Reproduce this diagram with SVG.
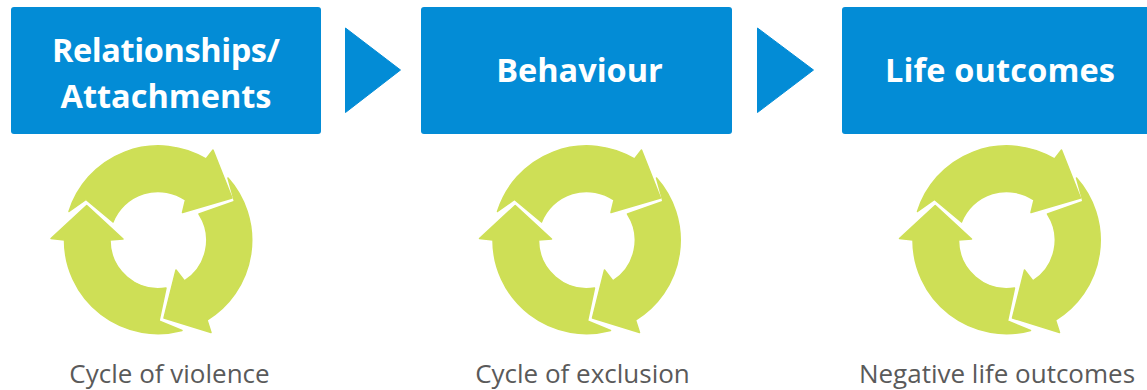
<svg xmlns="http://www.w3.org/2000/svg" width="1147" height="390" viewBox="0 0 1147 390">
<style>
.box{fill:#038cd6}
.tri{fill:#038cd6;stroke:#038cd6;stroke-width:1;stroke-linejoin:round}
.head{font-family:"Open Sans","Noto Sans",sans-serif;font-weight:700;font-size:32.500px;fill:#fff;text-anchor:middle}
.cap{font-family:"Open Sans","Noto Sans",sans-serif;font-size:26px;fill:#5a5a5a;text-anchor:middle}
.ring{fill:#cedf56;stroke:#cedf56;stroke-width:1.500;stroke-linejoin:round}
</style>
<defs>
<g id="cycle" class="ring">
<path d="M69 211.500A93.500 93.500 0 0 1 206 159L213 150L232 198L182.500 212.500L185.500 200A48.400 48.400 0 0 0 113 222L86 199.500Z"/>
<path d="M228 178A93.500 93.500 0 0 1 207 320L211 332.500L164 318L176 270L184.500 281A48.400 48.400 0 0 0 199 214L234.500 201.500Z"/>
<path d="M182 330.500A93.500 93.500 0 0 1 64.500 240L51 238.500L86.700 205.500L123 239L110 240A48.400 48.400 0 0 0 166 288L159 321Z"/>
</g>
</defs>
<g id="connectors">
<path class="tri" d="M345.500 28L400.500 70L345.500 112.500Z"/>
<path class="tri" d="M757.500 28L813.500 70L757.500 112.500Z"/>
</g>
<g id="node-relationships">
<rect class="box" x="11" y="7" width="310" height="127" rx="3"/>
<text class="head" x="166" y="62" textLength="228">Relationships/</text>
<text class="head" x="166" y="107.500">Attachments</text>
</g>
<g id="node-behaviour">
<rect class="box" x="421" y="7" width="311" height="127" rx="3"/>
<text class="head" x="579.500" y="82">Behaviour</text>
</g>
<g id="node-life-outcomes">
<rect class="box" x="842" y="7" width="310" height="127" rx="3"/>
<text class="head" x="1000" y="82" textLength="230">Life outcomes</text>
</g>
<g id="cycle-violence">
<use href="#cycle"/>
<text class="cap" x="169.500" y="383">Cycle of violence</text>
</g>
<g id="cycle-exclusion">
<use href="#cycle" transform="translate(428.500 0)"/>
<text class="cap" x="582.500" y="383">Cycle of exclusion</text>
</g>
<g id="cycle-negative">
<use href="#cycle" transform="translate(848.500 0)"/>
<text class="cap" x="997" y="383">Negative life outcomes</text>
</g>
</svg>
